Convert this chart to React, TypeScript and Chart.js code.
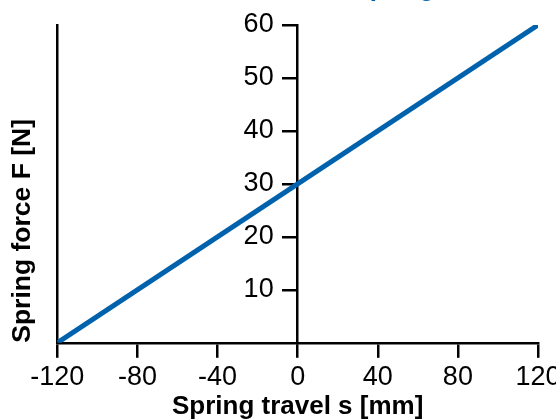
import { useEffect, useRef } from 'react';
import { Chart, registerables } from 'chart.js';

Chart.register(...registerables);

// ---- data ----
const travelMm = [-120, 0, 120];
const forceN = [0, 30, 60];
const xTickValues = [-120, -80, -40, 0, 40, 80, 120];
const yTickValues = [10, 20, 30, 40, 50, 60];
const chartTitle = 'Characteristic of a spring';
const xAxisTitle = 'Spring travel s [mm]';
const yAxisTitle = 'Spring force F [N]';

const BLUE = '#0062AD';
const FONT = 'Liberation Sans, Arial, Helvetica, sans-serif';

// Shift the labels of a centred y axis to the left of its tick marks.
const shifted = new WeakSet<object>();
const centredLabelPlugin = {
  id: 'centredLabelShift',
  beforeDraw(chart: any) {
    const scale = chart.scales.y;
    if (!scale) return;
    const items = scale.getLabelItems();
    if (shifted.has(items)) return;
    const tl = scale.options.grid.tickLength;
    const pad = scale.options.ticks.padding;
    items.forEach((it: any) => {
      it.options.translation[0] -= tl + pad;
    });
    shifted.add(items);
  },
};

export default function App() {
  const canvasRef = useRef<HTMLCanvasElement | null>(null);

  useEffect(() => {
    const canvas = canvasRef.current;
    if (!canvas) return;
    const chart = new Chart(canvas, {
      type: 'line',
      data: {
        datasets: [
          {
            data: travelMm.map((x, i) => ({ x, y: forceN[i] })),
            borderColor: BLUE,
            borderWidth: 5,
            pointRadius: 0,
            fill: false,
            tension: 0,
            yAxisID: 'y',
            xAxisID: 'x',
          },
        ],
      },
      options: {
        responsive: false,
        animation: false,
        layout: { padding: { left: 18, right: 32, top: 0, bottom: 0 } },
        plugins: {
          legend: { display: false },
          tooltip: { enabled: false },
          title: {
            display: true,
            text: chartTitle,
            color: BLUE,
            font: { family: FONT, size: 26, weight: 'bold', lineHeight: 1.2 },
            padding: { top: 13.5, bottom: 20.3 },
          },
        },
        scales: {
          x: {
            type: 'linear',
            position: 'bottom',
            min: -120,
            max: 120,
            afterBuildTicks: (s: any) => {
              s.ticks = xTickValues.map((v) => ({ value: v }));
            },
            grid: { drawOnChartArea: false, drawTicks: true, tickLength: 15, color: '#000', lineWidth: 2.5 },
            border: { display: true, color: '#000', width: 2.5 },
            ticks: { color: '#000', font: { family: FONT, size: 27, lineHeight: 1.2 }, padding: 3.8, maxRotation: 0, autoSkip: false },
            title: {
              display: true,
              text: xAxisTitle,
              color: '#000',
              font: { family: FONT, size: 26, weight: 'bold', lineHeight: 1.2 },
              padding: { top: -6.5, bottom: 6.5 },
            },
          },
          y: {
            type: 'linear',
            position: { x: 0 } as any,
            min: 0,
            max: 60,
            afterBuildTicks: (s: any) => {
              s.ticks = yTickValues.map((v) => ({ value: v }));
            },
            grid: { drawOnChartArea: false, drawTicks: true, tickLength: 14, color: '#000', lineWidth: 2.5 },
            border: { display: true, color: '#000', width: 2.5 },
            ticks: { color: '#000', font: { family: FONT, size: 27, lineHeight: 1.2 }, padding: 10 },
          },
          yLeft: {
            type: 'linear',
            position: 'left',
            min: 0,
            max: 60,
            grid: { display: false, drawTicks: false },
            ticks: { display: false },
            border: { display: true, color: '#000', width: 2.5 },
            title: {
              display: true,
              align: 'start',
              text: yAxisTitle,
              color: '#000',
              font: { family: FONT, size: 26.5, weight: 'bold', lineHeight: 1.2 },
              padding: { top: -10.9, bottom: 18.4 },
            },
          },
        },
      } as any,
      plugins: [centredLabelPlugin],
    });
    return () => chart.destroy();
  }, []);

  return (
    <div style={{ position: 'fixed', left: 0, top: 0, width: 556, height: 419, overflow: 'hidden', background: '#fff' }}>
      <div style={{ position: 'absolute', left: 0, top: -40, width: 570, height: 469 }}>
        <canvas ref={canvasRef} width={570} height={469} style={{ display: 'block' }} />
      </div>
    </div>
  );
}
